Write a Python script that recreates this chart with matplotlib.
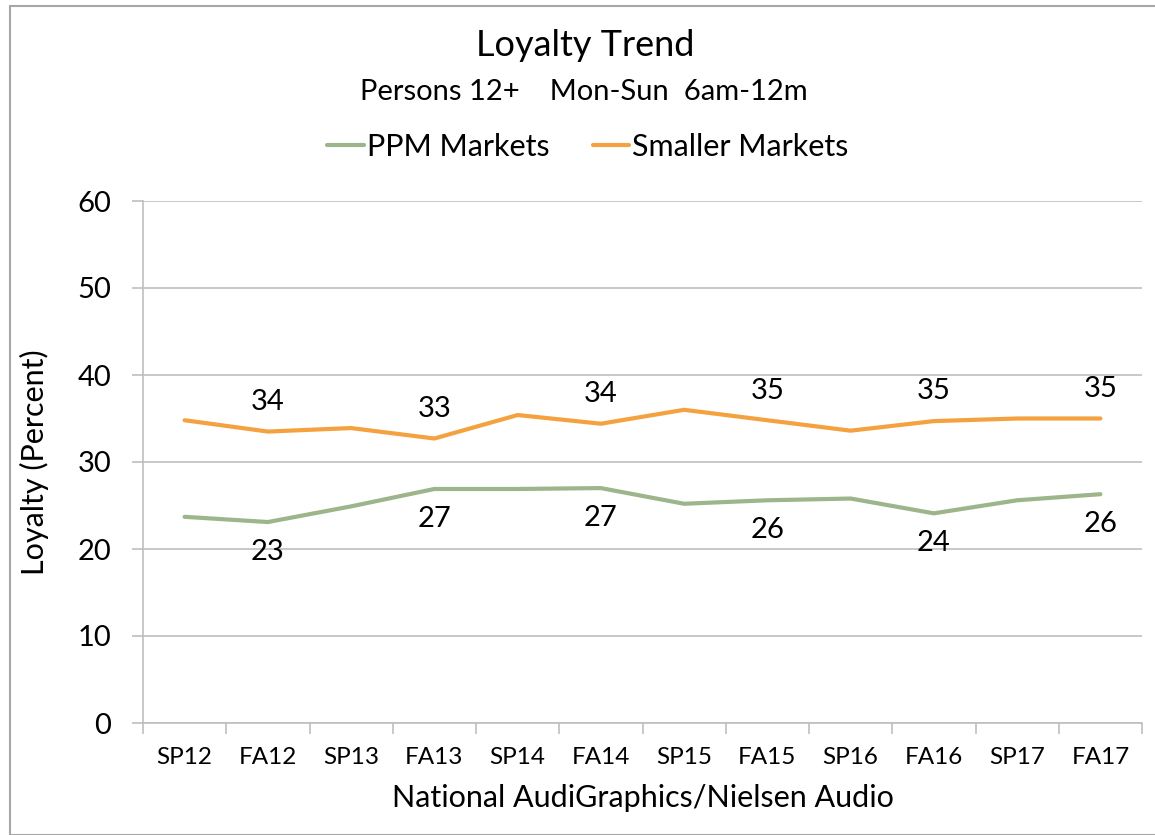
import matplotlib
matplotlib.use("Agg")
import matplotlib.pyplot as plt
from matplotlib.patches import Rectangle
import numpy as np

categories = ["SP12", "FA12", "SP13", "FA13", "SP14", "FA14",
              "SP15", "FA15", "SP16", "FA16", "SP17", "FA17"]
ppm = [23.7, 23.1, 24.9, 26.9, 26.9, 27.0, 25.2, 25.6, 25.8, 24.1, 25.6, 26.3]
smaller = [34.8, 33.5, 33.9, 32.7, 35.4, 34.4, 36.0, 34.8, 33.6, 34.7, 35.0, 35.0]
ppm_labels = ["", "23", "", "27", "", "27", "", "26", "", "24", "", "26"]
smaller_labels = ["", "34", "", "33", "", "34", "", "35", "", "35", "", "35"]

plt.rcParams['font.family'] = ['Lato', 'DejaVu Sans']

fig = plt.figure(figsize=(11.55, 8.35), dpi=100)
ax = fig.add_axes([143/1155, 1-723/835, (1142-143)/1155, (723-201)/835])

green = "#9CB58B"
orange = "#F4A23F"
grid_c = "#BFBFBF"

x = np.arange(len(categories))
l1, = ax.plot(x, ppm, color=green, lw=3.0, solid_capstyle='round', label="PPM Markets")
l2, = ax.plot(x, smaller, color=orange, lw=3.0, solid_capstyle='round', label="Smaller Markets")

for xi, v, t in zip(x, smaller, smaller_labels):
    if t:
        ax.annotate(t, (xi, v), xytext=(0, 12), textcoords='offset points',
                    ha='center', va='bottom', fontsize=21)
for xi, v, t in zip(x, ppm, ppm_labels):
    if t:
        ax.annotate(t, (xi, v), xytext=(0, -12), textcoords='offset points',
                    ha='center', va='top', fontsize=21)

ax.set_xlim(-0.5, len(categories) - 0.5)
ax.set_ylim(0, 60)
ax.set_yticks(range(0, 61, 10))
ax.set_xticks(x)
ax.set_xticklabels(categories, fontsize=17.5)
ax.set_xticks(np.arange(-0.5, len(categories), 1), minor=True)
ax.tick_params(axis='x', which='major', length=0, pad=17)
ax.tick_params(axis='x', which='minor', length=8, color=grid_c, width=1.2, direction='out')
ax.tick_params(axis='y', length=8, color=grid_c, width=1.2, labelsize=21, pad=15)
ax.yaxis.grid(True, color=grid_c, lw=1.2)
ax.set_axisbelow(True)
for s in ['top', 'right']:
    ax.spines[s].set_visible(False)
for s in ['left', 'bottom']:
    ax.spines[s].set_color(grid_c)
    ax.spines[s].set_linewidth(1.2)

ax.set_xlabel("National AudiGraphics/Nielsen Audio", fontsize=22, labelpad=12)
ax.set_ylabel("Loyalty (Percent)", fontsize=22, labelpad=20)

fig.text(585/1155, 1-46/835, "Loyalty Trend", ha='center', va='center', fontsize=26)
fig.text(584/1155, 1-92/835, "Persons 12+    Mon-Sun  6am-12m", ha='center', va='center', fontsize=21)
fig.legend(handles=[l1, l2], loc='center', bbox_to_anchor=(588/1155, 1-147/835),
           ncol=2, frameon=False, fontsize=22, handlelength=1.2, handletextpad=0.1,
           columnspacing=1.4)

fig.patches.append(Rectangle((10/1155, 0), 1.0, 1-6/835, transform=fig.transFigure,
                             fill=False, edgecolor="#A6A6A6", lw=1.5))

fig.savefig("out.png", dpi=100, facecolor='white')
